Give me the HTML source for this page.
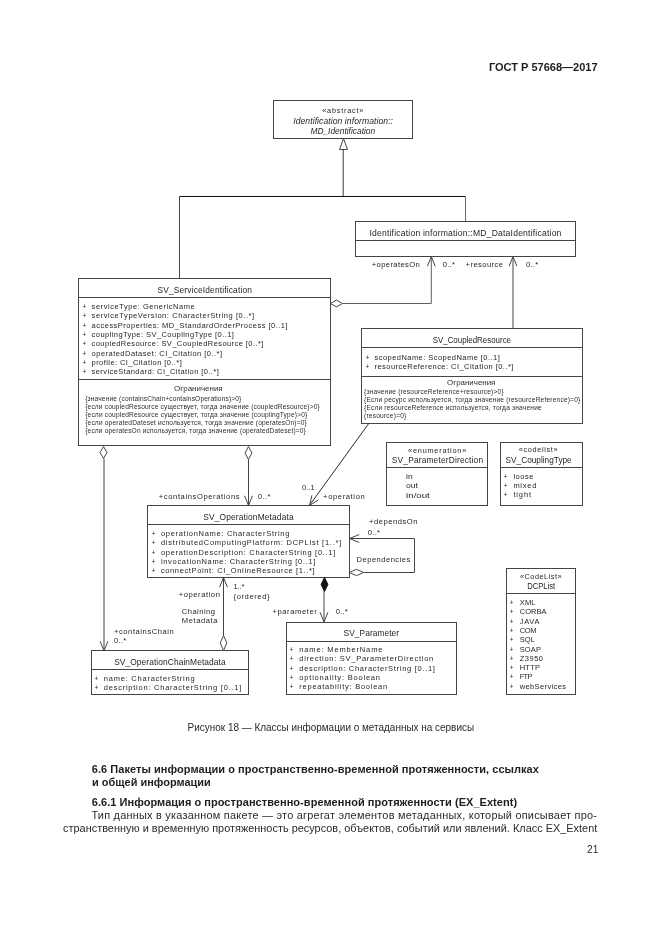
<!DOCTYPE html><html><head><meta charset="utf-8"><title>ГОСТ Р 57668—2017</title><style>
html,body{margin:0;padding:0;background:#fff;overflow:hidden;width:661px;height:935px;}svg{display:block;will-change:transform;}
text{font-family:"Liberation Sans",sans-serif;}
.d{fill:#262626;} .c{fill:#2e2e2e;} .p{fill:#2a2a2a;} .h{fill:#1e1e1e;font-weight:bold;} .i{font-style:italic;fill:#262626;}
.b{fill:none;stroke:#444444;stroke-width:1;} .l{fill:none;stroke:#444444;stroke-width:1;} .dm{fill:#fff;stroke:#444444;stroke-width:1;} .dmf{fill:#111;stroke:#111;stroke-width:1;}
</style></head><body>
<svg width="661" height="935" viewBox="0 0 661 935">
<text class="h" x="488.90" y="71.4" font-size="11.3" textLength="108.70" lengthAdjust="spacingAndGlyphs">ГОСТ Р 57668—2017</text>
<rect x="273.5" y="100.5" width="139.0" height="38.0" class="b"/>
<text class="d" x="322.20" y="112.8" font-size="7.3" textLength="41.20" lengthAdjust="spacing">«abstract»</text>
<text class="i" x="293.20" y="123.7" font-size="8.6" textLength="99.80" lengthAdjust="spacing">Identification information::</text>
<text class="i" x="310.40" y="134.0" font-size="8.6" textLength="64.80" lengthAdjust="spacingAndGlyphs">MD_Identification</text>
<polygon points="343.5,138.5 347.5,149.5 339.5,149.5" class="dm"/>
<polyline points="343.20,149.50 343.20,196.00" class="l" style="stroke:#3c3c3c;"/>
<polyline points="179.50,196.50 465.50,196.50" class="l" style="stroke:#111;stroke-width:1.1;"/>
<polyline points="179.50,196.50 179.50,278.50" class="l" style="stroke:#444;"/>
<polyline points="465.50,196.50 465.50,221.50" class="l" style="stroke:#6a6a6a;"/>
<rect x="355.5" y="221.5" width="220.0" height="35.0" class="b"/>
<line x1="355.5" y1="240.5" x2="575.5" y2="240.5" class="l"/>
<text class="d" x="369.40" y="236.0" font-size="8.6" textLength="192.00" lengthAdjust="spacing">Identification information::MD_DataIdentification</text>
<text class="d" x="371.80" y="267.0" font-size="7.6" textLength="48.00" lengthAdjust="spacing">+operatesOn</text>
<text class="d" x="442.80" y="267.0" font-size="7.6" textLength="12.10" lengthAdjust="spacing">0..*</text>
<text class="d" x="465.60" y="266.8" font-size="7.6" textLength="37.40" lengthAdjust="spacing">+resource</text>
<text class="d" x="526.10" y="266.8" font-size="7.6" textLength="12.00" lengthAdjust="spacing">0..*</text>
<polygon points="330.5,303.5 336.5,300.1 342.5,303.5 336.5,306.9" class="dm"/>
<polyline points="342.80,303.50 431.30,303.50 431.30,256.50" class="l" style="stroke:#5e5e5e;"/>
<polyline points="435.23,266.24 431.30,256.50 427.37,266.24" class="l"/>
<polyline points="513.00,328.60 513.00,256.50" class="l"/>
<polyline points="516.93,266.24 513.00,256.50 509.07,266.24" class="l"/>
<rect x="78.5" y="278.5" width="252.0" height="167.0" class="b"/>
<line x1="78.5" y1="297.5" x2="330.5" y2="297.5" class="l"/>
<line x1="78.5" y1="379.5" x2="330.5" y2="379.5" class="l"/>
<text class="d" x="157.50" y="292.6" font-size="8.4" textLength="94.40" lengthAdjust="spacing">SV_ServiceIdentification</text>
<text class="d" x="82.60" y="308.8" font-size="7.0" textLength="3.80" lengthAdjust="spacingAndGlyphs">+</text>
<text class="d" x="91.60" y="308.8" font-size="7.5" textLength="103.00" lengthAdjust="spacing">serviceType: GenericName</text>
<text class="d" x="82.60" y="318.2" font-size="7.0" textLength="3.80" lengthAdjust="spacingAndGlyphs">+</text>
<text class="d" x="91.60" y="318.2" font-size="7.5" textLength="162.60" lengthAdjust="spacing">serviceTypeVersion: CharacterString [0..*]</text>
<text class="d" x="82.60" y="327.5" font-size="7.0" textLength="3.80" lengthAdjust="spacingAndGlyphs">+</text>
<text class="d" x="91.60" y="327.5" font-size="7.5" textLength="196.00" lengthAdjust="spacing">accessProperties: MD_StandardOrderProcess [0..1]</text>
<text class="d" x="82.60" y="336.9" font-size="7.0" textLength="3.80" lengthAdjust="spacingAndGlyphs">+</text>
<text class="d" x="91.60" y="336.9" font-size="7.5" textLength="142.30" lengthAdjust="spacing">couplingType: SV_CouplingType [0..1]</text>
<text class="d" x="82.60" y="346.2" font-size="7.0" textLength="3.80" lengthAdjust="spacingAndGlyphs">+</text>
<text class="d" x="91.60" y="346.2" font-size="7.5" textLength="171.80" lengthAdjust="spacing">coupledResource: SV_CoupledResource [0..*]</text>
<text class="d" x="82.60" y="355.6" font-size="7.0" textLength="3.80" lengthAdjust="spacingAndGlyphs">+</text>
<text class="d" x="91.60" y="355.6" font-size="7.5" textLength="130.50" lengthAdjust="spacing">operatedDataset: CI_Citation [0..*]</text>
<text class="d" x="82.60" y="365.0" font-size="7.0" textLength="3.80" lengthAdjust="spacingAndGlyphs">+</text>
<text class="d" x="91.60" y="365.0" font-size="7.5" textLength="90.20" lengthAdjust="spacing">profile: CI_Citation [0..*]</text>
<text class="d" x="82.60" y="374.3" font-size="7.0" textLength="3.80" lengthAdjust="spacingAndGlyphs">+</text>
<text class="d" x="91.60" y="374.3" font-size="7.5" textLength="127.20" lengthAdjust="spacing">serviceStandard: CI_Citation [0..*]</text>
<text class="c" x="174.10" y="390.8" font-size="8.0" textLength="48.60" lengthAdjust="spacingAndGlyphs">Ограничения</text>
<text class="c" x="85.20" y="401.4" font-size="6.6" textLength="156.10" lengthAdjust="spacing">{значение (containsChain+containsOperations)&gt;0}</text>
<text class="c" x="85.20" y="409.2" font-size="6.6" textLength="234.50" lengthAdjust="spacing">{если coupledResource существует, тогда значение (coupledResource)&gt;0}</text>
<text class="c" x="85.20" y="417.0" font-size="6.6" textLength="222.00" lengthAdjust="spacing">{если coupledResource существует, тогда значение (couplingType)&gt;0}</text>
<text class="c" x="85.20" y="424.8" font-size="6.6" textLength="221.60" lengthAdjust="spacing">{если operatedDateset используется, тогда значение (operatesOn)=0}</text>
<text class="c" x="85.20" y="432.6" font-size="6.6" textLength="220.60" lengthAdjust="spacing">{если operatesOn используется, тогда значение (operatedDateset)=0}</text>
<polygon points="103.5,446.5 107.0,452.5 103.5,458.5 100.0,452.5" class="dm"/>
<polyline points="104.00,458.60 104.00,650.50" class="l"/>
<polyline points="100.07,641.06 104.00,650.80 107.93,641.06" class="l"/>
<text class="d" x="114.00" y="633.9" font-size="7.6" textLength="59.80" lengthAdjust="spacing">+containsChain</text>
<text class="d" x="114.00" y="642.5" font-size="7.6" textLength="12.10" lengthAdjust="spacing">0..*</text>
<polygon points="248.5,446.5 252.0,453.0 248.5,459.5 245.0,453.0" class="dm"/>
<polyline points="248.50,459.50 248.50,505.50" class="l"/>
<polyline points="244.57,495.76 248.50,505.50 252.43,495.76" class="l"/>
<text class="d" x="158.80" y="498.8" font-size="7.6" textLength="80.70" lengthAdjust="spacing">+containsOperations</text>
<text class="d" x="257.80" y="498.8" font-size="7.6" textLength="12.60" lengthAdjust="spacing">0..*</text>
<rect x="361.5" y="328.5" width="221.0" height="95.0" class="b"/>
<line x1="361.5" y1="347.5" x2="582.5" y2="347.5" class="l"/>
<line x1="361.5" y1="376.5" x2="582.5" y2="376.5" class="l"/>
<text class="d" x="432.70" y="343.1" font-size="8.4" textLength="78.30" lengthAdjust="spacingAndGlyphs">SV_CoupledResource</text>
<text class="d" x="365.60" y="359.5" font-size="7.0" textLength="3.80" lengthAdjust="spacingAndGlyphs">+</text>
<text class="d" x="374.50" y="359.5" font-size="7.5" textLength="125.30" lengthAdjust="spacing">scopedName: ScopedName [0..1]</text>
<text class="d" x="365.60" y="368.8" font-size="7.0" textLength="3.80" lengthAdjust="spacingAndGlyphs">+</text>
<text class="d" x="374.50" y="368.8" font-size="7.5" textLength="138.90" lengthAdjust="spacing">resourceReference: CI_Citation [0..*]</text>
<text class="c" x="447.10" y="385.0" font-size="8.0" textLength="48.30" lengthAdjust="spacingAndGlyphs">Ограничения</text>
<text class="c" x="364.00" y="394.3" font-size="6.6" textLength="139.60" lengthAdjust="spacing">{значение (resourceReference+resource)&gt;0}</text>
<text class="c" x="364.00" y="402.2" font-size="6.6" textLength="216.20" lengthAdjust="spacing">{Если ресурс используется, тогда значение (resourceReference)=0}</text>
<text class="c" x="364.00" y="410.1" font-size="6.6" textLength="177.70" lengthAdjust="spacing">{Если resourceReference используется, тогда значение</text>
<text class="c" x="364.00" y="418.0" font-size="6.6" textLength="42.30" lengthAdjust="spacing">(resource)=0}</text>
<polyline points="368.90,423.30 309.50,505.40" class="l" style="stroke:#2a2a2a;"/>
<polyline points="311.99,495.30 309.50,505.50 318.38,499.89" class="l"/>
<text class="d" x="301.90" y="490.3" font-size="7.6" textLength="12.90" lengthAdjust="spacing">0..1</text>
<text class="d" x="323.10" y="498.6" font-size="7.6" textLength="41.60" lengthAdjust="spacing">+operation</text>
<rect x="386.5" y="442.5" width="101.0" height="63.0" class="b"/>
<line x1="386.5" y1="467.5" x2="487.5" y2="467.5" class="l"/>
<text class="d" x="408.10" y="452.6" font-size="7.3" textLength="58.10" lengthAdjust="spacing">«enumeration»</text>
<text class="d" x="391.80" y="463.1" font-size="8.4" textLength="91.30" lengthAdjust="spacing">SV_ParameterDirection</text>
<text class="d" x="406.10" y="478.7" font-size="7.5" textLength="6.60" lengthAdjust="spacingAndGlyphs">in</text>
<text class="d" x="406.10" y="488.4" font-size="7.5" textLength="11.80" lengthAdjust="spacingAndGlyphs">out</text>
<text class="d" x="406.10" y="497.9" font-size="7.5" textLength="23.70" lengthAdjust="spacingAndGlyphs">in/out</text>
<rect x="500.5" y="442.5" width="82.0" height="63.0" class="b"/>
<line x1="500.5" y1="467.5" x2="582.5" y2="467.5" class="l"/>
<text class="d" x="518.70" y="452.4" font-size="7.3" textLength="38.90" lengthAdjust="spacing">«codelist»</text>
<text class="d" x="505.60" y="463.4" font-size="8.4" textLength="66.10" lengthAdjust="spacingAndGlyphs">SV_CouplingType</text>
<text class="d" x="503.60" y="478.6" font-size="7.0" textLength="3.80" lengthAdjust="spacingAndGlyphs">+</text>
<text class="d" x="513.40" y="478.6" font-size="7.5" textLength="20.10" lengthAdjust="spacing">loose</text>
<text class="d" x="503.60" y="487.9" font-size="7.0" textLength="3.80" lengthAdjust="spacingAndGlyphs">+</text>
<text class="d" x="513.40" y="487.9" font-size="7.5" textLength="22.90" lengthAdjust="spacing">mixed</text>
<text class="d" x="503.60" y="497.2" font-size="7.0" textLength="3.80" lengthAdjust="spacingAndGlyphs">+</text>
<text class="d" x="513.40" y="497.2" font-size="7.5" textLength="17.60" lengthAdjust="spacing">tight</text>
<rect x="147.5" y="505.5" width="202.0" height="72.0" class="b"/>
<line x1="147.5" y1="524.5" x2="349.5" y2="524.5" class="l"/>
<text class="d" x="203.30" y="519.5" font-size="8.4" textLength="90.30" lengthAdjust="spacing">SV_OperationMetadata</text>
<text class="d" x="151.50" y="536.0" font-size="7.0" textLength="3.80" lengthAdjust="spacingAndGlyphs">+</text>
<text class="d" x="160.90" y="536.0" font-size="7.5" textLength="128.40" lengthAdjust="spacing">operationName: CharacterString</text>
<text class="d" x="151.50" y="545.3" font-size="7.0" textLength="3.80" lengthAdjust="spacingAndGlyphs">+</text>
<text class="d" x="160.90" y="545.3" font-size="7.5" textLength="180.40" lengthAdjust="spacing">distributedComputingPlatform: DCPList [1..*]</text>
<text class="d" x="151.50" y="554.6" font-size="7.0" textLength="3.80" lengthAdjust="spacingAndGlyphs">+</text>
<text class="d" x="160.90" y="554.6" font-size="7.5" textLength="174.40" lengthAdjust="spacing">operationDescription: CharacterString [0..1]</text>
<text class="d" x="151.50" y="563.9" font-size="7.0" textLength="3.80" lengthAdjust="spacingAndGlyphs">+</text>
<text class="d" x="160.90" y="563.9" font-size="7.5" textLength="154.50" lengthAdjust="spacing">invocationName: CharacterString [0..1]</text>
<text class="d" x="151.50" y="573.2" font-size="7.0" textLength="3.80" lengthAdjust="spacingAndGlyphs">+</text>
<text class="d" x="160.90" y="573.2" font-size="7.5" textLength="153.80" lengthAdjust="spacing">connectPoint: CI_OnlineResource [1..*]</text>
<polyline points="349.50,538.50 414.50,538.50 414.50,572.50 363.50,572.50" class="l"/>
<polyline points="359.24,534.57 349.50,538.50 359.24,542.43" class="l"/>
<polygon points="349.5,572.5 356.5,569.3 363.5,572.5 356.5,575.7" class="dm"/>
<text class="d" x="369.00" y="524.0" font-size="7.6" textLength="48.40" lengthAdjust="spacing">+dependsOn</text>
<text class="d" x="367.80" y="534.6" font-size="7.6" textLength="12.20" lengthAdjust="spacing">0..*</text>
<text class="d" x="356.60" y="561.8" font-size="7.6" textLength="53.60" lengthAdjust="spacing">Dependencies</text>
<rect x="506.5" y="568.5" width="69.0" height="126.0" class="b"/>
<line x1="506.5" y1="593.5" x2="575.5" y2="593.5" class="l"/>
<text class="d" x="520.00" y="578.9" font-size="7.3" textLength="41.60" lengthAdjust="spacing">«CodeList»</text>
<text class="d" x="527.20" y="588.7" font-size="8.4" textLength="28.00" lengthAdjust="spacingAndGlyphs">DCPList</text>
<text class="d" x="509.80" y="605.1" font-size="7.0" textLength="3.60" lengthAdjust="spacingAndGlyphs">+</text>
<text class="d" x="519.70" y="605.1" font-size="7.5" textLength="15.80" lengthAdjust="spacing">XML</text>
<text class="d" x="509.80" y="614.4" font-size="7.0" textLength="3.60" lengthAdjust="spacingAndGlyphs">+</text>
<text class="d" x="519.70" y="614.4" font-size="7.5" textLength="26.80" lengthAdjust="spacing">CORBA</text>
<text class="d" x="509.80" y="623.7" font-size="7.0" textLength="3.60" lengthAdjust="spacingAndGlyphs">+</text>
<text class="d" x="519.70" y="623.7" font-size="7.5" textLength="19.80" lengthAdjust="spacing">JAVA</text>
<text class="d" x="509.80" y="632.9" font-size="7.0" textLength="3.60" lengthAdjust="spacingAndGlyphs">+</text>
<text class="d" x="519.70" y="632.9" font-size="7.5" textLength="16.80" lengthAdjust="spacing">COM</text>
<text class="d" x="509.80" y="642.2" font-size="7.0" textLength="3.60" lengthAdjust="spacingAndGlyphs">+</text>
<text class="d" x="519.70" y="642.2" font-size="7.5" textLength="15.30" lengthAdjust="spacing">SQL</text>
<text class="d" x="509.80" y="651.5" font-size="7.0" textLength="3.60" lengthAdjust="spacingAndGlyphs">+</text>
<text class="d" x="519.70" y="651.5" font-size="7.5" textLength="21.30" lengthAdjust="spacing">SOAP</text>
<text class="d" x="509.80" y="660.8" font-size="7.0" textLength="3.60" lengthAdjust="spacingAndGlyphs">+</text>
<text class="d" x="519.70" y="660.8" font-size="7.5" textLength="23.30" lengthAdjust="spacing">Z3950</text>
<text class="d" x="509.80" y="670.1" font-size="7.0" textLength="3.60" lengthAdjust="spacingAndGlyphs">+</text>
<text class="d" x="519.70" y="670.1" font-size="7.5" textLength="20.30" lengthAdjust="spacing">HTTP</text>
<text class="d" x="509.80" y="679.3" font-size="7.0" textLength="3.60" lengthAdjust="spacingAndGlyphs">+</text>
<text class="d" x="519.70" y="679.3" font-size="7.5" textLength="12.80" lengthAdjust="spacing">FTP</text>
<text class="d" x="509.80" y="688.6" font-size="7.0" textLength="3.60" lengthAdjust="spacingAndGlyphs">+</text>
<text class="d" x="519.70" y="688.6" font-size="7.5" textLength="46.30" lengthAdjust="spacing">webServices</text>
<rect x="91.5" y="650.5" width="157.0" height="44.0" class="b"/>
<line x1="91.5" y1="669.5" x2="248.5" y2="669.5" class="l"/>
<text class="d" x="114.20" y="664.5" font-size="8.4" textLength="111.40" lengthAdjust="spacing">SV_OperationChainMetadata</text>
<text class="d" x="94.40" y="681.0" font-size="7.0" textLength="3.80" lengthAdjust="spacingAndGlyphs">+</text>
<text class="d" x="103.80" y="681.0" font-size="7.5" textLength="90.80" lengthAdjust="spacing">name: CharacterString</text>
<text class="d" x="94.40" y="690.2" font-size="7.0" textLength="3.80" lengthAdjust="spacingAndGlyphs">+</text>
<text class="d" x="103.80" y="690.2" font-size="7.5" textLength="137.50" lengthAdjust="spacing">description: CharacterString [0..1]</text>
<polyline points="223.50,577.50 223.50,635.50" class="l"/>
<polyline points="227.43,587.24 223.50,577.50 219.57,587.24" class="l"/>
<polygon points="223.5,635.5 226.8,643.0 223.5,650.5 220.2,643.0" class="dm"/>
<text class="d" x="178.70" y="596.8" font-size="7.6" textLength="41.20" lengthAdjust="spacing">+operation</text>
<text class="d" x="181.80" y="613.5" font-size="7.6" textLength="33.20" lengthAdjust="spacing">Chaining</text>
<text class="d" x="181.80" y="622.5" font-size="7.6" textLength="35.70" lengthAdjust="spacing">Metadata</text>
<text class="d" x="233.50" y="588.6" font-size="7.6" textLength="10.90" lengthAdjust="spacing">1..*</text>
<text class="d" x="233.50" y="598.6" font-size="7.6" textLength="36.00" lengthAdjust="spacing">{ordered}</text>
<polygon points="324.5,577.5 327.9,584.5 324.5,591.5 321.1,584.5" class="dmf"/>
<polyline points="324.00,591.20 324.00,622.20" class="l"/>
<polyline points="320.07,612.26 324.00,622.00 327.93,612.26" class="l"/>
<text class="d" x="272.40" y="613.5" font-size="7.6" textLength="44.50" lengthAdjust="spacing">+parameter</text>
<text class="d" x="335.80" y="613.5" font-size="7.6" textLength="11.80" lengthAdjust="spacing">0..*</text>
<rect x="286.5" y="622.5" width="170.0" height="72.0" class="b"/>
<line x1="286.5" y1="641.5" x2="456.5" y2="641.5" class="l"/>
<text class="d" x="343.60" y="636.0" font-size="8.4" textLength="55.50" lengthAdjust="spacing">SV_Parameter</text>
<text class="d" x="289.40" y="652.3" font-size="7.0" textLength="3.80" lengthAdjust="spacingAndGlyphs">+</text>
<text class="d" x="299.30" y="652.3" font-size="7.5" textLength="83.10" lengthAdjust="spacing">name: MemberName</text>
<text class="d" x="289.40" y="661.4" font-size="7.0" textLength="3.80" lengthAdjust="spacingAndGlyphs">+</text>
<text class="d" x="299.30" y="661.4" font-size="7.5" textLength="133.90" lengthAdjust="spacing">direction: SV_ParameterDirection</text>
<text class="d" x="289.40" y="670.5" font-size="7.0" textLength="3.80" lengthAdjust="spacingAndGlyphs">+</text>
<text class="d" x="299.30" y="670.5" font-size="7.5" textLength="135.60" lengthAdjust="spacing">description: CharacterString [0..1]</text>
<text class="d" x="289.40" y="679.6" font-size="7.0" textLength="3.80" lengthAdjust="spacingAndGlyphs">+</text>
<text class="d" x="299.30" y="679.6" font-size="7.5" textLength="80.70" lengthAdjust="spacing">optionality: Boolean</text>
<text class="d" x="289.40" y="688.7" font-size="7.0" textLength="3.80" lengthAdjust="spacingAndGlyphs">+</text>
<text class="d" x="299.30" y="688.7" font-size="7.5" textLength="87.90" lengthAdjust="spacing">repeatability: Boolean</text>
<text class="p" x="187.60" y="730.8" font-size="10.3" textLength="286.50" lengthAdjust="spacingAndGlyphs">Рисунок 18 — Классы информации о метаданных на сервисы</text>
<text class="h" x="91.80" y="772.6" font-size="11.0" textLength="447.10" lengthAdjust="spacing">6.6 Пакеты информации о пространственно-временной протяженности, ссылках</text>
<text class="h" x="92.10" y="785.9" font-size="11.0" textLength="118.60" lengthAdjust="spacingAndGlyphs">и общей информации</text>
<text class="h" x="91.80" y="805.6" font-size="11.0" textLength="425.30" lengthAdjust="spacing">6.6.1 Информация о пространственно-временной протяженности (EX_Extent)</text>
<text class="p" x="91.40" y="818.7" font-size="10.9" textLength="505.60" lengthAdjust="spacing">Тип данных в указанном пакете — это агрегат элементов метаданных, который описывает про-</text>
<text class="p" x="63.00" y="832.4" font-size="10.9" textLength="534.30" lengthAdjust="spacing">странственную и временную протяженность ресурсов, объектов, событий или явлений. Класс EX_Extent</text>
<text class="p" x="586.90" y="852.8" font-size="10.0" textLength="11.30" lengthAdjust="spacing">21</text>
</svg></body></html>
